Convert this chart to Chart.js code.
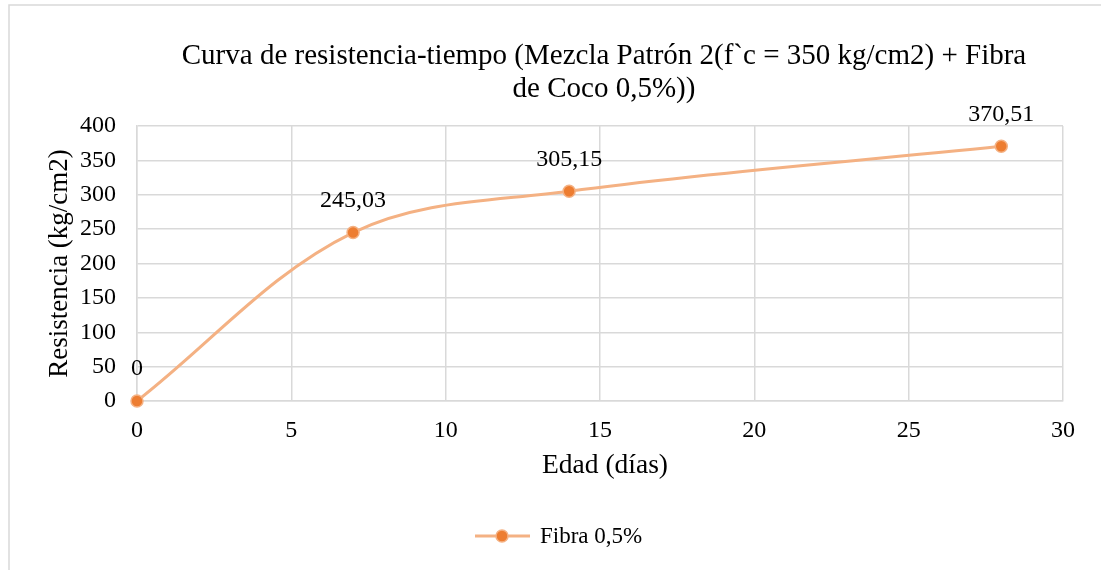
<!DOCTYPE html>
<html>
<head>
<meta charset="utf-8">
<script src="https://cdn.jsdelivr.net/npm/chart.js@4.4.1/dist/chart.umd.min.js"></script>
<style>
  html, body { margin: 0; padding: 0; background: #fff; }
  #wrap { position: relative; width: 1101px; height: 570px; }
  canvas { display: block; }
</style>
</head>
<body>
<div id="wrap"><canvas id="c" width="1101" height="570"></canvas></div>
<script>
// Edad (días) y resistencia a compresión (kg/cm2)
const edadDias = [0, 7, 14, 28];
const resistencia = [0, 245.03, 305.15, 370.51];
const etiquetas = ['0', '245,03', '305,15', '370,51'];
const serieNombre = 'Fibra 0,5%';
const tituloLineas = [
  'Curva de resistencia-tiempo (Mezcla Patrón 2(f`c = 350 kg/cm2) + Fibra',
  'de Coco 0,5%))'
];
const ejeXTitulo = 'Edad (días)';
const ejeYTitulo = 'Resistencia (kg/cm2)';

const FONT = "'Liberation Serif', 'Times New Roman', serif";
const LINE_COLOR = '#F4B183';
const POINT_COLOR = '#ED7D31';
const GRID_COLOR = '#D9D9D9';

const puntos = edadDias.map((x, i) => ({ x: x, y: resistencia[i] }));

// Frame, titles, data labels and legend drawn on the canvas
const decor = {
  id: 'decor',
  beforeDraw(chart) {
    const ctx = chart.ctx;
    ctx.save();
    ctx.fillStyle = '#fff';
    ctx.fillRect(0, 0, chart.width, chart.height);
    ctx.strokeStyle = GRID_COLOR;
    ctx.lineWidth = 1.5;
    ctx.strokeRect(9, 5, chart.width + 20, chart.height + 20);
    ctx.restore();
  },
  afterDraw(chart) {
    const ctx = chart.ctx;
    const area = chart.chartArea;
    ctx.save();
    ctx.fillStyle = '#000';
    ctx.textAlign = 'center';
    ctx.textBaseline = 'middle';
    // chart title
    ctx.font = '29px ' + FONT;
    tituloLineas.forEach((t, i) => ctx.fillText(t, 604, 56 + i * 33));
    // axis titles
    ctx.font = '27.5px ' + FONT;
    ctx.fillText(ejeXTitulo, (area.left + area.right) / 2 + 5, 466);
    ctx.save();
    ctx.translate(60, (area.top + area.bottom) / 2);
    ctx.rotate(-Math.PI / 2);
    ctx.font = '27px ' + FONT;
    ctx.fillText(ejeYTitulo, 0, 0);
    ctx.restore();
    // data labels
    ctx.font = '24px ' + FONT;
    const meta = chart.getDatasetMeta(0);
    meta.data.forEach((el, i) => {
      ctx.fillText(etiquetas[i], el.x, el.y - 32);
    });
    // legend
    const ly = 536;
    const lx = 502;
    ctx.strokeStyle = LINE_COLOR;
    ctx.lineWidth = 3;
    ctx.beginPath();
    ctx.moveTo(lx - 27, ly);
    ctx.lineTo(lx + 28, ly);
    ctx.stroke();
    ctx.beginPath();
    ctx.arc(lx, ly, 6, 0, Math.PI * 2);
    ctx.fillStyle = POINT_COLOR;
    ctx.fill();
    ctx.lineWidth = 1.5;
    ctx.strokeStyle = LINE_COLOR;
    ctx.stroke();
    ctx.fillStyle = '#000';
    ctx.textAlign = 'left';
    ctx.font = '23px ' + FONT;
    ctx.fillText(serieNombre, 540, ly + 1);
    ctx.restore();
  }
};

new Chart(document.getElementById('c'), {
  type: 'scatter',
  data: {
    datasets: [{
      label: serieNombre,
      data: puntos,
      showLine: true,
      borderColor: LINE_COLOR,
      borderWidth: 3,
      tension: 0.35,
      pointRadius: 6,
      pointBackgroundColor: POINT_COLOR,
      pointBorderColor: LINE_COLOR,
      pointBorderWidth: 1.5,
      clip: false
    }]
  },
  options: {
    responsive: false,
    animation: false,
    devicePixelRatio: 1,
    layout: { padding: { top: 126, right: 38, bottom: 0, left: 0 } },
    plugins: {
      legend: { display: false },
      title: { display: false },
      tooltip: { enabled: false }
    },
    scales: {
      x: {
        type: 'linear',
        min: 0, max: 30,
        ticks: { stepSize: 5, color: '#000', font: { family: FONT, size: 24 }, padding: 15, maxRotation: 0 },
        grid: { color: GRID_COLOR, lineWidth: 1.5, drawTicks: false },
        border: { color: GRID_COLOR, width: 1.5 },
        afterFit(s) { s.height = 169; }
      },
      y: {
        min: 0, max: 400,
        ticks: { stepSize: 50, color: '#000', font: { family: FONT, size: 24 }, padding: 21 },
        grid: { color: GRID_COLOR, lineWidth: 1.5, drawTicks: false },
        border: { color: GRID_COLOR, width: 1.5 },
        afterFit(s) { s.width = 137; }
      }
    }
  },
  plugins: [decor]
});
</script>
</body>
</html>
